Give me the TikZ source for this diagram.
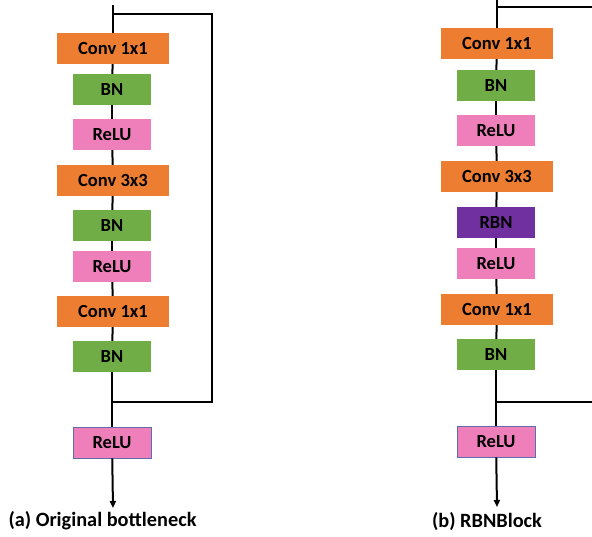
\documentclass[tikz,border=0pt]{standalone}
\usepackage{fontspec}
\setmainfont{Carlito}
\usetikzlibrary{arrows.meta}
\definecolor{convc}{HTML}{ED7D31}
\definecolor{bnc}{HTML}{70AD47}
\definecolor{reluc}{HTML}{EF7FBB}
\definecolor{rbnc}{HTML}{7030A0}
\definecolor{edgec}{HTML}{5F6EA8}
\tikzset{
  blk/.style={inner sep=0pt, font=\bfseries\fontsize{18.5}{20}\selectfont, text=black, minimum height=31pt},
  convbox/.style={blk, fill=convc, minimum width=112pt},
  bnbox/.style={blk, fill=bnc, minimum width=78pt},
  relubox/.style={blk, fill=reluc, minimum width=78pt},
  rbnbox/.style={blk, fill=rbnc, minimum width=78pt},
  flow/.style={draw=black, line width=2pt, line join=miter},
  caption/.style={font=\bfseries\fontsize{20.3}{22}\selectfont, inner sep=0pt}
}
\begin{document}
\begin{tikzpicture}[x=1pt,y=-1pt]
\useasboundingbox (0,0) rectangle (592,536);
% left column
\node[convbox] (a1) at (113,48.5) {Conv 1x1};
\node[bnbox]   (a2) at (112,89.5) {BN};
\node[relubox] (a3) at (112,134.5) {ReLU};
\node[convbox] (a4) at (113,180.5) {Conv 3x3};
\node[bnbox]   (a5) at (112,225.5) {BN};
\node[relubox] (a6) at (112,266.5) {ReLU};
\node[convbox] (a7) at (113,311.5) {Conv 1x1};
\node[bnbox]   (a8) at (112,356.5) {BN};
\node[relubox, draw=edgec, line width=0.8pt] (a9) at (112,442.5) {ReLU};
\coordinate (atop) at (113,5);
\coordinate (askipA) at (113,14);
\coordinate (aR1) at (212,14);
\coordinate (aR2) at (212,402);
\coordinate (askipB) at (113,402);
\coordinate (aend) at (113,508);
\draw[flow] (atop) -- (a1);
\draw[flow] (a1) -- (a2);
\draw[flow] (a2) -- (a3);
\draw[flow] (a3) -- (a4);
\draw[flow] (a4) -- (a5);
\draw[flow] (a5) -- (a6);
\draw[flow] (a6) -- (a7);
\draw[flow] (a7) -- (a8);
\draw[flow] (a8) -- (a9);
\draw[flow, -{Triangle[length=7pt,width=6pt]}] (a9) -- (aend);
\draw[flow] (askipA) -- (aR1) -- (aR2) -- (askipB);
\node[caption] (acap) at (102.5,521) {(a) Original bottleneck};
% right column
\node[convbox] (b1) at (497,43.5) {Conv 1x1};
\node[bnbox]   (b2) at (496,85.5) {BN};
\node[relubox] (b3) at (496,130.5) {ReLU};
\node[convbox] (b4) at (497,176.5) {Conv 3x3};
\node[rbnbox]  (b5) at (496,222.5) {RBN};
\node[relubox] (b6) at (496,263.5) {ReLU};
\node[convbox] (b7) at (497,309.5) {Conv 1x1};
\node[bnbox]   (b8) at (496,354.5) {BN};
\node[relubox, draw=edgec, line width=0.8pt] (b9) at (496,441.5) {ReLU};
\coordinate (btop) at (497,0);
\coordinate (bskipA) at (497,7);
\coordinate (bR1) at (592,7);
\coordinate (bR2) at (592,402);
\coordinate (bskipB) at (497,402);
\coordinate (bend) at (497,507);
\draw[flow] (btop) -- (b1);
\draw[flow] (b1) -- (b2);
\draw[flow] (b2) -- (b3);
\draw[flow] (b3) -- (b4);
\draw[flow] (b4) -- (b5);
\draw[flow] (b5) -- (b6);
\draw[flow] (b6) -- (b7);
\draw[flow] (b7) -- (b8);
\draw[flow] (b8) -- (b9);
\draw[flow, -{Triangle[length=7pt,width=6pt]}] (b9) -- (bend);
\draw[flow] (bskipA) -- (bR1);
\draw[flow] (bR2) -- (bskipB);
\node[caption] (bcap) at (487,521) {(b) RBNBlock};
\end{tikzpicture}
\end{document}
